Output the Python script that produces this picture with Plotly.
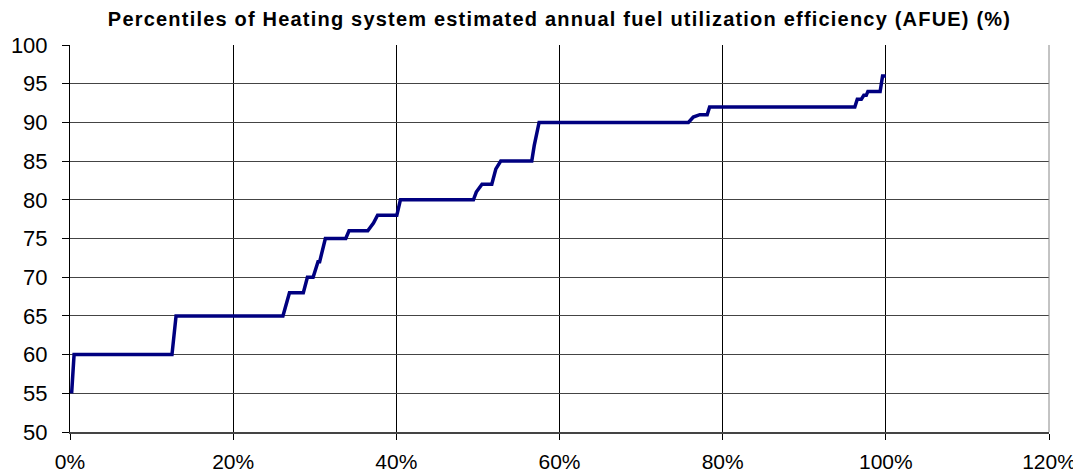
import plotly.graph_objects as go

# percentile (fraction of systems) vs AFUE (%)
pct = [0.002, 0.005, 0.125, 0.130, 0.261, 0.269, 0.286, 0.291, 0.298, 0.304,
       0.306, 0.313, 0.338, 0.342, 0.365, 0.372, 0.377, 0.4006, 0.405,
       0.4945, 0.498, 0.505, 0.517, 0.522, 0.528, 0.566, 0.569, 0.575,
       0.758, 0.764, 0.772, 0.781, 0.784, 0.962, 0.965, 0.970, 0.973,
       0.976, 0.978, 0.993, 0.996, 1.0]
afue = [55, 60, 60, 65, 65, 68, 68, 70, 70, 72,
        72, 75, 75, 76, 76, 77, 78, 78, 80,
        80, 81, 82, 82, 84, 85, 85, 87, 90,
        90, 90.7, 91, 91, 92, 92, 93, 93, 93.5,
        93.5, 94, 94, 96, 96]

x_ticks = [0, 0.2, 0.4, 0.6, 0.8, 1.0, 1.2]
x_labels = ["0%", "20%", "40%", "60%", "80%", "100%", "120%"]
y_ticks = list(range(50, 101, 5))

fig = go.Figure()
fig.add_trace(go.Scatter(x=pct, y=afue, mode="lines",
                         line=dict(color="#000080", width=3.5), showlegend=False))

# page body has an 8px margin, so the figure is a bit smaller than the window
fig.update_layout(
    width=1073, height=467,
    margin=dict(l=62, r=32, t=37, b=43, autoexpand=False),
    paper_bgcolor="white", plot_bgcolor="white",
    font=dict(family="Liberation Sans, Arial", color="black"),
    title=dict(text="<b>Percentiles of Heating system estimated annual fuel utilization efficiency (AFUE) (%)</b>",
               x=0.5, xanchor="center", xref="paper",
               y=1 - 11 / 467, yanchor="middle",
               font=dict(size=20)),
)
fig.update_xaxes(range=[0, 1.2], tickvals=x_ticks, ticktext=x_labels,
                 automargin=False,
                 showgrid=True, gridcolor="#000000", gridwidth=1,
                 showline=True, linecolor="#444444", linewidth=2,
                 ticks="outside", ticklen=6, tickcolor="#000000",
                 ticklabelstandoff=4,
                 tickfont=dict(size=21), zeroline=False)
fig.update_yaxes(range=[50, 100], tickvals=y_ticks,
                 automargin=False,
                 showgrid=True, gridcolor="#444444", gridwidth=1,
                 showline=True, linecolor="#000000", linewidth=1,
                 ticks="outside", ticklen=7, tickcolor="#000000",
                 ticklabelstandoff=10,
                 tickfont=dict(size=22), zeroline=False)
# right border of plot area
fig.add_shape(type="line", xref="paper", yref="paper", x0=1, x1=1, y0=0, y1=1,
              line=dict(color="#888888", width=1))

# Excel-style spaced title lettering
spacing_js = """
var t = document.querySelector('.gtitle');
if (t) { t.style.letterSpacing = '1.2px'; }
"""
fig.write_html("out.html", post_script=spacing_js)
